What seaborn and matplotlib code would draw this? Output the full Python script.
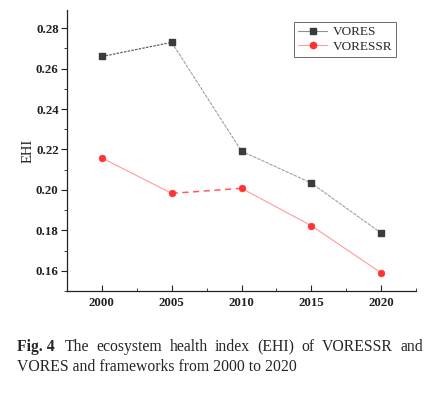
import numpy as np
import pandas as pd
import matplotlib
matplotlib.use("Agg")
import matplotlib.pyplot as plt
import seaborn as sns
from matplotlib.ticker import MultipleLocator, FormatStrFormatter

years = [2000, 2005, 2010, 2015, 2020]
vores = [0.2660, 0.2730, 0.2192, 0.2034, 0.1787]
voressr = [0.2158, 0.1983, 0.2008, 0.1823, 0.1590]

caption_head = "Fig. 4"
caption_line1 = "The ecosystem health index (EHI) of VORESSR and"
caption_line2 = "VORES and frameworks from 2000 to 2020"

sns.set_style("ticks")
plt.rcParams['font.family'] = ['Liberation Serif', 'DejaVu Serif']

W, H = 446, 394
fig = plt.figure(figsize=(W / 100, H / 100), dpi=100)
ax = fig.add_axes([67 / W, 1 - 291 / H, 349 / W, 281 / H])

df = pd.DataFrame({"year": years, "VORES": vores, "VORESSR": voressr})

# VORES: gray fine-dotted line, darker first segment
sns.lineplot(data=df.iloc[0:2], x="year", y="VORES", ax=ax, color="#606060",
             linewidth=0.9, linestyle=(0, (2, 1)))
sns.lineplot(data=df.iloc[1:5], x="year", y="VORES", ax=ax, color="#a0a0a0",
             linewidth=0.8, linestyle=(0, (3, 1)))
ax.plot([], [], color="#909090", linewidth=0.8, marker="s", markersize=4,
        markerfacecolor="#3a3a3a", markeredgecolor="#3a3a3a", label="VORES")
ax.scatter(df["year"], df["VORES"], marker="s", s=20, color="#3c3c3c",
           edgecolor="#3c3c3c", zorder=5)

# VORESSR: light red line, dashed between 2005 and 2010
red_line = "#ff9c9c"
sns.lineplot(data=df.iloc[0:2], x="year", y="VORESSR", ax=ax, color=red_line, linewidth=0.8)
sns.lineplot(data=df.iloc[1:3], x="year", y="VORESSR", ax=ax, color="#ff5a5a", linewidth=1.1,
             linestyle=(0, (4, 3)))
sns.lineplot(data=df.iloc[2:5], x="year", y="VORESSR", ax=ax, color=red_line, linewidth=0.8)
ax.plot([], [], color=red_line, linewidth=0.8, marker="o", markersize=4.5,
        markerfacecolor="#ff3030", markeredgecolor="#ff3030", label="VORESSR")
sns.scatterplot(data=df, x="year", y="VORESSR", ax=ax, color="#ff3333", s=24,
                edgecolor="#ff3333", zorder=5)

ax.set_xlim(1997.5, 2022.5)
ax.set_ylim(0.150, 0.289)
ax.set_xticks(years)
ax.xaxis.set_minor_locator(MultipleLocator(2.5))
ax.yaxis.set_major_locator(MultipleLocator(0.02))
ax.yaxis.set_minor_locator(MultipleLocator(0.01))
ax.yaxis.set_major_formatter(FormatStrFormatter("%.2f"))

sns.despine(ax=ax)
for s in ["left", "bottom"]:
    ax.spines[s].set_linewidth(0.9)
    ax.spines[s].set_color("#222222")
ax.tick_params(axis="both", which="both", colors="#222222", labelsize=9.3)
ax.tick_params(axis="y", which="major", length=4, width=0.8, direction="out", pad=2)
ax.tick_params(axis="y", which="minor", length=2, width=0.6, direction="out")
ax.tick_params(axis="x", which="major", length=4, width=0.8, direction="in", pad=4)
ax.tick_params(axis="x", which="minor", length=2, width=0.6, direction="in")
for lab in ax.get_xticklabels() + ax.get_yticklabels():
    lab.set_fontweight("bold")

ax.set_xlabel("")
ax.set_ylabel("EHI", fontsize=10.5, labelpad=1)

handles, labels = ax.get_legend_handles_labels()
leg = ax.legend(handles, labels, loc="upper right", bbox_to_anchor=(329 / 349, 269 / 281),
                borderaxespad=0, fontsize=9.5, frameon=True, fancybox=False,
                edgecolor="#444444", handlelength=2.2, borderpad=0.3,
                labelspacing=0.2, handletextpad=0.4)
leg.get_frame().set_linewidth(0.7)

# caption, first line justified between x=17 and x=423 px
cap_size = 11.3
y1 = 1 - 351 / H
y2 = 1 - 371 / H
fig.text(17 / W, y1, caption_head, fontsize=cap_size, fontweight="bold", ha="left", va="baseline")
renderer = fig.canvas.get_renderer()
words = caption_line1.split()
texts = [fig.text(0, y1, w, fontsize=cap_size, ha="left", va="baseline") for w in words]
widths = [t.get_window_extent(renderer).width for t in texts]
x0, x1 = 65, 423
gap = (x1 - x0 - sum(widths)) / (len(words) - 1)
x = x0
for t, w in zip(texts, widths):
    t.set_x(x / W)
    x += w + gap
fig.text(17 / W, y2, caption_line2, fontsize=cap_size, ha="left", va="baseline")

fig.savefig("out.png", dpi=100)
